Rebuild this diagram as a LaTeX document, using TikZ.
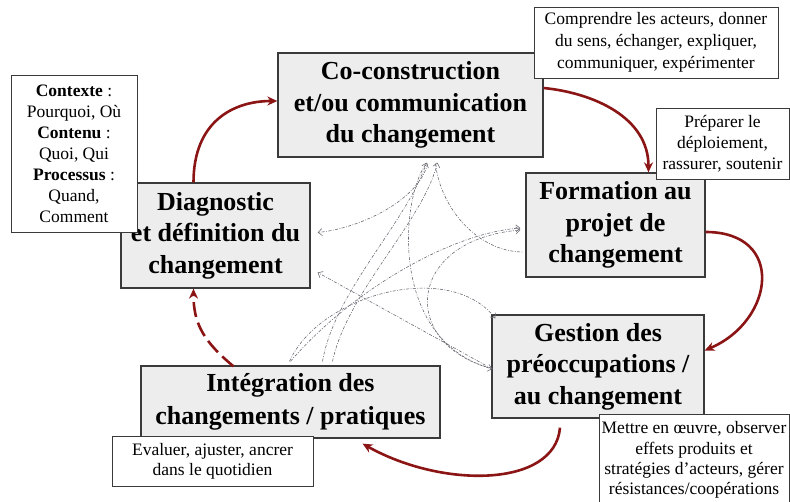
\documentclass[tikz,border=0pt]{standalone}
\usepackage{fontspec}
\setmainfont{Liberation Serif}
\usetikzlibrary{arrows.meta,calc}
\definecolor{boxgray}{HTML}{EDEDED}
\definecolor{boxline}{HTML}{3A3A3A}
\definecolor{darkred}{HTML}{8B1414}
\definecolor{webgray}{HTML}{6A6A74}
\begin{document}
\begin{tikzpicture}[x=1pt,y=-1pt,
  mainbox/.style={draw=boxline, line width=1.3pt, fill=boxgray, align=center, inner sep=0pt,
    font=\fontsize{26}{31.5}\selectfont\bfseries},
  notebox/.style={draw=boxline, line width=0.9pt, fill=white, align=center, inner sep=0pt,
    font=\fontsize{17.5}{21}\selectfont},
  cyclearrow/.style={draw=darkred, line width=2.6pt, -{Stealth[length=10pt,width=9pt]}},
  cycledash/.style={cyclearrow, dash pattern=on 15pt off 6pt},
  web/.style={draw=webgray, line width=0.6pt, dash pattern=on 3pt off 1.5pt on 0.8pt off 1.5pt,
    -{Straight Barb[length=4pt,width=7pt]}},
  webplain/.style={draw=webgray, line width=0.6pt, dash pattern=on 3pt off 1.5pt on 0.8pt off 1.5pt}]
\useasboundingbox (0,0) rectangle (790,502);
\clip (0,0) rectangle (790,502);

% main boxes
\node[mainbox, minimum width=265pt, minimum height=104pt] (co) at (410.5,105)
  {Co-construction\\et/ou communication\\du changement};
\node[mainbox, minimum width=189pt, minimum height=105pt] (diag) at (215.5,235.5)
  {Diagnostic\\et définition du\\changement};
\node[mainbox, minimum width=179pt, minimum height=104pt] (form) at (615.5,225)
  {Formation au\\projet de\\changement};
\node[mainbox, minimum width=212pt, minimum height=103pt] (gest) at (598,366.5)
  {Gestion des\\préoccupations /\\au changement};
\node[mainbox, minimum width=299pt, minimum height=72pt, font=\fontsize{26}{33}\selectfont\bfseries] (int) at (290.5,402)
  {Intégration des\\changements / pratiques};

% web of dash-dot links
\draw[web] ($(co.south)+(17,6)$) .. controls +(-8,35) and +(45,-4.5) .. ($(diag.east)+(7,-3)$);
\draw[web] ($(int.north)+(32,-4)$) .. controls +(12,-70) and +(-20,60) .. ($(co.south)+(16,5)$);
\draw[web] ($(int.north)+(42,-4)$) .. controls +(15,-70) and +(-15,60) .. ($(co.south)+(27,5)$);
\draw[webplain] ($(co.south)+(25,6)$) .. controls +(5,45) and +(-45,0) .. ($(form.west)+(-2,27)$);
\draw[web] ($(int.north)+(0,-4)$) .. controls +(60,-70) and +(-70,5) .. ($(form.west)+(-5,3)$);
\draw[web] ($(gest.west)+(1,2)$) .. controls +(-93,-23) and +(-116,10) .. ($(form.west)+(-5,5)$);
\draw[web] ($(int.north)+(-1,-4)$) .. controls +(30,-67) and +(-46,-59) .. ($(gest.north west)+(4,4)$);
\draw[web] ($(gest.west)+(0,2)$) -- ($(diag.east)+(7,37)$);
\draw[web] ($(co.south)+(15,7)$) .. controls +(-25,36) and +(-103,-29) .. ($(gest.west)+(1,2.5)$);

% red cycle
\draw[cyclearrow] ($(diag.north)+(-22,0)$) .. controls +(0,-60) and +(-45,0) .. ($(co.west)+(0,-4)$);
\draw[cyclearrow] ($(co.east)+(0,-17)$) .. controls +(50,5) and +(0,-55) .. ($(form.north)+(33,0)$);
\draw[cyclearrow] ($(form.east)+(0,7)$) .. controls +(80,0) and +(70,-30) .. ($(gest.east)+(0,-16)$);
\draw[cyclearrow] ($(gest.south)+(-38,9)$) .. controls +(-5,60) and +(80,45) .. ($(int.south)+(72,5)$);
\draw[cycledash] ($(int.north)+(-57,1)$) .. controls +(-30,-25) and +(0,35) .. ($(diag.south)+(-22,0)$);

% notes
\node[notebox, minimum width=126pt, minimum height=157pt] (ctx) at (74,153.5)
  {\textbf{Contexte} :\\Pourquoi, Où\\\textbf{Contenu} :\\Quoi, Qui\\\textbf{Processus} :\\Quand,\\Comment};
\node[notebox, minimum width=244pt, minimum height=71pt, font=\fontsize{17.5}{22}\selectfont] (comp) at (656,42.5)
  {Comprendre les acteurs, donner\\du sens, échanger, expliquer,\\communiquer, expérimenter};
\node[notebox, minimum width=133pt, minimum height=71pt] (prep) at (722.5,143.5)
  {Préparer le\\déploiement,\\rassurer, soutenir};
\node[notebox, minimum width=201pt, minimum height=50pt, font=\fontsize{17.5}{20}\selectfont] (eval) at (212.5,461)
  {Evaluer, ajuster, ancrer\\dans le quotidien};
\node[notebox, minimum width=190pt, minimum height=92pt, font=\fontsize{17.5}{20.3}\selectfont] (mett) at (694,460)
  {Mettre en œuvre, observer\\effets produits et\\stratégies d’acteurs, gérer\\résistances/coopérations};
\end{tikzpicture}
\end{document}
